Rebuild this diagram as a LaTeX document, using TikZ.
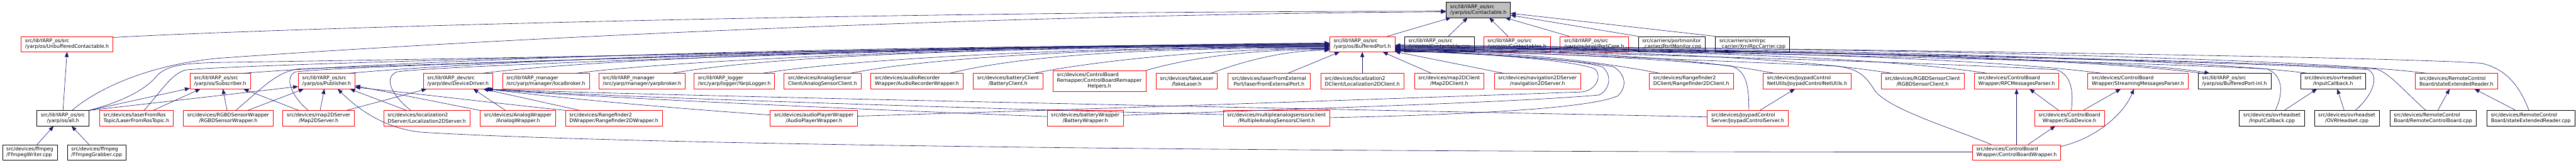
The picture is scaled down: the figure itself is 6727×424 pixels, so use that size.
\documentclass[tikz,border=0pt]{standalone}
\usepackage{fontspec}
\setmainfont{DejaVu Sans}
\usepackage{tikz}
\usetikzlibrary{arrows.meta}
\usetikzlibrary{calc}

\definecolor{dred}{HTML}{FF0000}
\definecolor{dnavy}{HTML}{191970}
\definecolor{dgray}{HTML}{BFBFBF}
\newcommand\dfont{\fontsize{12.9}{15}\selectfont}

\tikzset{
  dfile/.style={draw=black, line width=1pt, fill=white, font=\dfont,
    inner xsep=10.5pt, inner ysep=0pt, minimum height=40pt, align=left},
  trunc/.style={dfile, draw=dred},
  rootf/.style={dfile, fill=dgray},
  ctr/.style={align=center},
  inc/.style={draw=dnavy, line width=1pt, -{Triangle[length=13pt,width=10pt]}}
}

\begin{document}
\begin{tikzpicture}[x=1pt,y=-1pt]

    % === Righe del grafo (y dei centri) ===
    \def\ya{25.7}
    \def\yb{115.2}
    \def\yc{211.8}
    \def\yd{308.5}
    \def\ye{397.7}

    \fill[white, use as bounding box] (0,0) rectangle (6727,424);

    % === 0. Radice ===
    \node[rootf] (ctH) at (3860.5,\ya) {src/libYARP\_os/src\\/yarp/os/Contactable.h};

    % === 1. Prima riga ===
    \node[trunc] (ucH) at (175,\yb) {src/libYARP\_os/src\\/yarp/os/UnbufferedContactable.h};
    \node[trunc] (bpH) at (3557.5,\yb) {src/libYARP\_os/src\\/yarp/os/BufferedPort.h};
    \node[dfile] (ctCpp) at (3759,\yb) {src/libYARP\_os/src\\/yarp/os/Contactable.cpp};
    \node[trunc] (ctsH) at (3961.5,\yb) {src/libYARP\_os/src\\/yarp/os/Contactables.h};
    \node[trunc] (pcH) at (4163,\yb) {src/libYARP\_os/src\\/yarp/os/impl/PortCore.h};
    \node[dfile] (pmCpp) at (4365.5,\yb) {src/carriers/portmonitor\\\_carrier/PortMonitor.cpp};
    \node[dfile] (xrCpp) at (4576.5,\yb) {src/carriers/xmlrpc\\\_carrier/XmlRpcCarrier.cpp};

    % === 2. Seconda riga ===
    \node[trunc] (subH) at (575,\yc) {src/libYARP\_os/src\\/yarp/os/Subscriber.h};
    \node[trunc] (pubH) at (853,\yc) {src/libYARP\_os/src\\/yarp/os/Publisher.h};
    \node[trunc] (ddH) at (1196,\yc) {src/libYARP\_dev/src\\/yarp/dev/DeviceDriver.h};
    \node[trunc] (lbH) at (1425.5,\yc) {src/libYARP\_manager\\/src/yarp/manager/localbroker.h};
    \node[trunc] (ybH) at (1676.5,\yc) {src/libYARP\_manager\\/src/yarp/manager/yarpbroker.h};
    \node[trunc] (ylH) at (1917.5,\yc) {src/libYARP\_logger\\/src/yarp/logger/YarpLogger.h};
    \node[trunc] (ascH) at (2148,\yc) {src/devices/AnalogSensor\\Client/AnalogSensorClient.h};
    \node[trunc] (arwH) at (2394.5,\yc) {src/devices/audioRecorder\\Wrapper/AudioRecorderWrapper.h};
    \node[trunc, ctr] (bcH) at (2632.5,\yc) {src/devices/batteryClient\\/BatteryClient.h};
    \node[trunc, minimum height=55pt] (cbrhH) at (2871,\yc) {\begin{tabular}{@{}l@{}}src/devices/ControlBoard\\Remapper/ControlBoardRemapper\\\multicolumn{1}{@{}c@{}}{Helpers.h}\end{tabular}};
    \node[trunc, ctr] (flH) at (3099,\yc) {src/devices/fakeLaser\\/fakeLaser.h};
    \node[trunc, ctr] (lfepH) at (3314,\yc) {src/devices/laserFromExternal\\Port/laserFromExternalPort.h};
    \node[trunc] (l2dcH) at (3557.5,\yc) {src/devices/localization2\\DClient/Localization2DClient.h};
    \node[trunc, ctr] (m2dcH) at (3784.5,\yc) {src/devices/map2DClient\\/Map2DClient.h};
    \node[trunc, ctr] (n2dsH) at (4015,\yc) {src/devices/navigation2DServer\\/navigation2DServer.h};
    \node[trunc] (r2dcH) at (4416.5,\yc) {src/devices/Rangefinder2\\DClient/Rangefinder2DClient.h};
    \node[trunc] (jcnuH) at (4719,\yc) {src/devices/JoypadControl\\NetUtils/JoypadControlNetUtils.h};
    \node[trunc, ctr] (rgbdcH) at (5020.5,\yc) {src/devices/RGBDSensorClient\\/RGBDSensorClient.h};
    \node[trunc] (rpcH) at (5266,\yc) {src/devices/ControlBoard\\Wrapper/RPCMessagesParser.h};
    \node[trunc] (smpH) at (5583,\yc) {src/devices/ControlBoard\\Wrapper/StreamingMessagesParser.h};
    \node[dfile] (bpiH) at (5835,\yc) {src/libYARP\_os/src\\/yarp/os/BufferedPort-inl.h};
    \node[dfile, ctr] (icH) at (6092.5,\yc) {src/devices/ovrheadset\\/InputCallback.h};
    \node[trunc] (serH) at (6414.5,\yc) {src/devices/RemoteControl\\Board/stateExtendedReader.h};

    % === 3. Terza riga ===
    \node[dfile, ctr] (allH) at (164.5,\yd) {src/libYARP\_os/src\\/yarp/os/all.h};
    \node[trunc] (lfrtH) at (356,\yd) {src/devices/laserFromRos\\Topic/LaserFromRosTopic.h};
    \node[trunc, ctr] (rgbdwH) at (596,\yd) {src/devices/RGBDSensorWrapper\\/RGBDSensorWrapper.h};
    \node[trunc, ctr] (m2dsH) at (832,\yd) {src/devices/map2DServer\\/Map2DServer.h};
    \node[trunc] (l2dsH) at (1114.5,\yd) {src/devices/localization2\\DServer/Localization2DServer.h};
    \node[trunc, ctr] (awH) at (1352.5,\yd) {src/devices/AnalogWrapper\\/AnalogWrapper.h};
    \node[trunc] (r2dwH) at (1603,\yd) {src/devices/Rangefinder2\\DWrapper/Rangefinder2DWrapper.h};
    \node[trunc, ctr] (apwH) at (2125.5,\yd) {src/devices/audioPlayerWrapper\\/AudioPlayerWrapper.h};
    \node[trunc, ctr] (bwH) at (2834,\yd) {src/devices/batteryWrapper\\/BatteryWrapper.h};
    \node[trunc, ctr] (masH) at (3333.5,\yd) {src/devices/multipleanalogsensorsclient\\/MultipleAnalogSensorsClient.h};
    \node[trunc] (jcsH) at (4564,\yd) {src/devices/JoypadControl\\Server/JoypadControlServer.h};
    \node[trunc, ctr] (sdH) at (5404,\yd) {src/devices/ControlBoard\\Wrapper/SubDevice.h};
    \node[dfile, ctr] (icCpp) at (5933,\yd) {src/devices/ovrheadset\\/InputCallback.cpp};
    \node[dfile, ctr] (ovrCpp) at (6128.5,\yd) {src/devices/ovrheadset\\/OVRHeadset.cpp};
    \node[dfile] (rcbCpp) at (6353.5,\yd) {src/devices/RemoteControl\\Board/RemoteControlBoard.cpp};
    \node[dfile] (serCpp) at (6609,\yd) {src/devices/RemoteControl\\Board/stateExtendedReader.cpp};

    % === 4. Quarta riga ===
    \node[dfile] (fwCpp) at (78,\ye) {src/devices/ffmpeg\\/FfmpegWriter.cpp};
    \node[dfile] (fgCpp) at (252.5,\ye) {src/devices/ffmpeg\\/FfmpegGrabber.cpp};
    \node[trunc] (cbwH) at (5266,\ye) {src/devices/ControlBoard\\Wrapper/ControlBoardWrapper.h};

    % === 5. Archi verso Contactable.h ===
    \draw[inc] ($(ucH.north east)+(0,3)$) .. controls (700,75) and (2200,30) .. ($(ctH.west)+(0,3.5)$);
    \draw[inc] ($(allH.north)+(23.5,0)$) .. controls (250,235) and (380,170) .. (570,152) .. controls (1300,100) and (2600,38) .. ($(ctH.west)+(0,5)$);
    \draw[inc] ($(bpH.north)+(65.5,0)$) -- ($(ctH.south)+(-71.5,0)$);
    \draw[inc] ($(ctCpp.north)+(23,0)$) -- ($(ctH.south)+(-28,0)$);
    \draw[inc] ($(ctsH.north)+(-23.5,0)$) -- ($(ctH.south)+(28.5,0)$);
    \draw[inc] ($(pcH.north)+(-65,0)$) -- ($(ctH.south)+(70,0)$);
    \draw[inc] (pmCpp.north west) -- ($(ctH.east)+(0,14)$);
    \draw[inc] (xrCpp.north west) -- ($(ctH.east)+(0,9)$);

    % === 6. all.h e ffmpeg ===
    \draw[inc] (allH.north) -- (ucH.south);
    \draw[inc] ($(fwCpp.north)+(19,0)$) -- ($(allH.south)+(-24.5,0)$);
    \draw[inc] ($(fgCpp.north)+(-20,0)$) -- ($(allH.south)+(22.5,0)$);
    \draw[inc] (allH.north east) -- ($(subH.south west)+(0,-2)$);
    \draw[inc] (allH.north east) -- ($(pubH.west)+(0,14)$);
    \draw[inc] (allH.north east) .. controls (330,262) and (385,230) .. (412,195) .. controls (440,170) and (480,165) .. (570,163) .. controls (1800,145) and (2800,118) .. ($(bpH.west)+(0,-3)$);

    % === 7. Wrapper e server a sinistra ===
    \draw[inc] ($(lfrtH.north)+(44,0)$) -- ($(subH.south)+(-52,0)$);
    \draw[inc] ($(lfrtH.north)+(20,0)$) .. controls (420,240) and (445,195) .. (483,183) .. controls (620,165) and (2600,118) .. ($(bpH.west)+(0,-2)$);
    \draw[inc] ($(rgbdwH.north)+(-3,0)$) -- ($(subH.south)+(7,0)$);
    \draw[inc] ($(rgbdwH.north)+(51,0)$) -- ($(pubH.south)+(-60,0)$);
    \draw[inc] ($(rgbdwH.north)+(20,0)$) .. controls (690,225) and (720,190) .. (778,180) .. controls (1200,165) and (2600,118) .. ($(bpH.west)+(0,-1)$);
    \draw[inc] ($(m2dsH.north)+(-52,0)$) -- ($(subH.south)+(61,0)$);
    \draw[inc] ($(m2dsH.north)+(4,0)$) -- ($(pubH.south)+(-6,0)$);
    \draw[inc] ($(m2dsH.north)+(-27,0)$) .. controls (765,255) and (740,205) .. (770,188) .. controls (850,172) and (2600,118) .. (bpH.west);
    \draw[inc] ($(m2dsH.north)+(73,0)$) -- ($(ddH.south)+(-82,0)$);
    \draw[inc] ($(l2dsH.north)+(-53,0)$) -- ($(pubH.south)+(61,0)$);
    \draw[inc] ($(l2dsH.north)+(-42,0)$) .. controls (1025,250) and (1000,205) .. (1035,188) .. controls (1100,172) and (2600,118) .. ($(bpH.west)+(0,1)$);
    \draw[inc] (awH.north west) -- ($(pubH.east)+(0,12)$);
    \draw[inc] (r2dwH.north west) .. controls (1300,270) and (1050,240) .. ($(pubH.east)+(0,16)$);
    \draw[inc] ($(awH.north)+(-32.5,0)$) -- ($(ddH.south)+(40,0)$);
    \draw[inc] ($(r2dwH.north)+(-89,0)$) -- ($(ddH.south)+(66,0)$);

    % === 8. Archi lunghi verso DeviceDriver.h ===
    \draw[inc] ($(apwH.west)+(0,-8.5)$) .. controls (1750,282) and (1450,255) .. ($(ddH.south)+(78,0)$);
    \draw[inc] ($(bwH.west)+(0,-4.5)$) .. controls (2300,288) and (1500,252) .. ($(ddH.south)+(74,0)$);
    \draw[inc] ($(masH.west)+(0,-9.5)$) .. controls (2800,290) and (1600,255) .. ($(ddH.south)+(70,0)$);
    \draw[inc] ($(jcsH.west)+(0,-3.5)$) .. controls (3800,292) and (1700,250) .. ($(ddH.south)+(68,0)$);

    % === 9. Fascio verso BufferedPort.h (da sinistra) ===
    \foreach \src/\ox/\pa/\pb/\pc/\dd in {subH/59.5/350/28/1400/2, pubH/58/300/28/1300/3,
        ddH/64/260/35/1100/4, lbH/78/230/30/1000/5, ybH/78/250/45/850/6, ylH/73.5/220/35/700/7,
        ascH/72/200/40/600/8, arwH/85.5/200/50/450/10, bcH/67.5/120/25/350/12, flH/63/80/30/120/16} {
        \draw[inc] ($(\src.north)+(\ox,0)$) .. controls +(\pa,-\pb) and +(-\pc,0) .. ($(bpH.west)+(0,\dd)$);
    }
    \draw[inc] (cbrhH.north east) .. controls +(120,-35) and +(-200,0) .. ($(bpH.west)+(0,14)$);
    \draw[inc] ($(lfepH.north)+(49,0)$) -- ($(bpH.south)+(-59.5,0)$);
    \draw[inc] (l2dcH.north) -- (bpH.south);
    \draw[inc] ($(m2dcH.north)+(-46.5,0)$) -- ($(bpH.south)+(53.5,0)$);
    \draw[inc] ($(n2dsH.north)+(-88,0)$) -- ($(bpH.south east)+(0,-1)$);

    % === 10. Fascio verso BufferedPort.h (da destra) ===
    \foreach \src/\ox/\pa/\pb/\pc/\dd in {r2dcH/-82.5/150/30/300/17, jcnuH/-86/200/40/450/16,
        rgbdcH/-80.5/250/40/600/15, rpcH/-77/250/40/700/13, smpH/-94/300/40/800/12,
        bpiH/-84/300/40/900/11, icH/-65.5/300/40/1000/9, serH/-77.5/300/40/1100/6} {
        \draw[inc] ($(\src.north)+(\ox,0)$) .. controls +(-\pa,-\pb) and +(\pc,0) .. ($(bpH.east)+(0,\dd)$);
    }
    \draw[inc] ($(bpH.east)+(0,2)$) .. controls (4300,125) and (5550,150) .. ($(bpiH.north)+(-65,0)$);
    \draw[inc] ($(jcsH.north)+(3,0)$) .. controls (4567,220) and (4560,185) .. (4520,172) .. controls (4300,150) and (3900,132) .. ($(bpH.east)+(0,15)$);
    \draw[inc] ($(cbwH.north)+(-66,0)$) .. controls (5100,335) and (4930,285) .. (4895,235) .. controls (4870,195) and (4850,178) .. (4790,172) .. controls (4400,155) and (3900,135) .. ($(bpH.east)+(0,13)$);
    \draw[inc] ($(sdH.north)+(5,0)$) .. controls (5415,240) and (5410,195) .. (5370,182) .. controls (5000,160) and (4000,135) .. ($(bpH.east)+(0,11)$);
    \draw[inc] ($(icCpp.north)+(8.7,0)$) .. controls (5965,240) and (5960,195) .. (5920,180) .. controls (5500,158) and (4200,130) .. ($(bpH.east)+(0,8)$);
    \draw[inc] ($(ovrCpp.north)+(22,0)$) .. controls (6195,250) and (6215,200) .. (6185,182) .. controls (5800,155) and (4200,128) .. ($(bpH.east)+(0,6)$);
    \draw[inc] ($(rcbCpp.north)+(-18.5,0)$) .. controls (6280,240) and (6240,190) .. (6205,180) .. controls (5800,153) and (4200,127) .. ($(bpH.east)+(0,5)$);
    \draw[inc] ($(serCpp.north)+(-5,0)$) .. controls (6580,225) and (6545,180) .. (6480,165) .. controls (6200,145) and (4300,122) .. ($(bpH.east)+(0,3)$);
    \draw[inc] ($(apwH.east)+(0,-5.5)$) .. controls (3000,280) and (3900,248) .. (4130,240) .. controls (4168,236) and (4185,200) .. (4165,180) .. controls (4120,160) and (3900,140) .. ($(bpH.east)+(0,16)$);
    \draw[inc] ($(bwH.east)+(0,-7.5)$) .. controls (3300,287) and (3950,268) .. (4175,248) .. controls (4205,235) and (4210,195) .. (4185,175) .. controls (4140,158) and (3900,138) .. ($(bpH.east)+(0,17)$);
    \draw[inc] ($(masH.east)+(0,-1.5)$) .. controls (3800,300) and (4150,285) .. (4225,250) .. controls (4250,225) and (4245,195) .. (4215,175) .. controls (4150,160) and (3900,140) .. ($(bpH.east)+(0,18)$);

    % === 11. Archi corti a destra ===
    \draw[inc] ($(ovrCpp.north)+(-7,0)$) -- ($(icH.south)+(11,0)$);
    \draw[inc] ($(icCpp.north)+(32,0)$) -- ($(icH.south)+(-42,0)$);
    \draw[inc] ($(rcbCpp.north)+(12.5,0)$) -- ($(serH.south)+(-17.7,0)$);
    \draw[inc] ($(serCpp.north)+(-39,0)$) -- ($(serH.south)+(47.5,0)$);
    \draw[inc] ($(sdH.north)+(-28,0)$) -- ($(rpcH.south)+(34,0)$);
    \draw[inc] ($(sdH.north)+(36,0)$) -- ($(smpH.south)+(-45,0)$);
    \draw[inc] ($(cbwH.north)+(30,0)$) -- ($(sdH.south)+(-37,0)$);
    \draw[inc] (cbwH.north) -- (rpcH.south);
    \draw[inc] ($(cbwH.east)+(0,-15.7)$) .. controls (5470,362) and (5545,300) .. ($(smpH.south)+(-10.5,0)$);
    \draw[inc] ($(jcsH.north)+(31.6,0)$) -- ($(jcnuH.south)+(-32,0)$);

    % === 12. ControlBoardWrapper.h -> Publisher.h (arco in basso) ===
    \draw[inc] ($(cbwH.west)+(0,-1)$) .. controls (2800,397) and (1500,370) .. (1100,345) .. controls (1000,335) and (930,280) .. ($(pubH.south)+(29,0)$);

\end{tikzpicture}
\end{document}
